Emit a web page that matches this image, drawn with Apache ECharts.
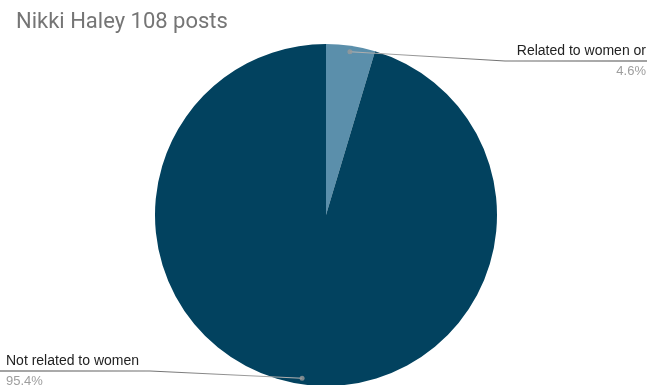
<!DOCTYPE html>
<html>
<head>
<meta charset="utf-8">
<script src="https://cdn.jsdelivr.net/npm/echarts@6/dist/echarts.min.js"></script>
<style>
  html, body { margin: 0; padding: 0; background: #fff; }
  #chart { width: 647px; height: 385px; }
</style>
</head>
<body>
<div id="chart"></div>
<script>
  // data
  const categories = ['Related to women or', 'Not related to women']
  const values = [5, 103]
  const colors = ['#5b8fab', '#02425f']

  const W = 647, H = 385
  const center = [326, 215]
  const radius = 171
  const total = values.reduce((a, b) => a + b, 0)

  // label anchors (where the horizontal part of each leader sits)
  const labelAnchors = [
      { bendX: 505, endX: W, y: 61, align: 'right', textX: 646 },
      { bendX: 150, endX: 0, y: 371, align: 'left', textX: 6 }
  ]

  // middle of each slice, in value units
  let acc = 0
  const mids = values.map(v => {
      const m = acc + v / 2
      acc += v
      return m
  })

  // leader start point: slightly inside the slice, at its middle angle
  function startPoint(mid) {
      const a = mid / total * Math.PI * 2
      const r = radius * 0.965
      return [center[0] + r * Math.sin(a), center[1] - r * Math.cos(a)]
  }

  const leaderSeries = mids.map((m, i) => {
      const s = startPoint(m)
      const an = labelAnchors[i]
      const toRight = an.endX > s[0]
      return {
          type: 'line',
          silent: true,
          z: 5,
          symbol: 'none',
          animation: false,
          lineStyle: {
              width: 1.2,
              color: {
                  type: 'linear', x: 0, y: 0, x2: 1, y2: 0,
                  colorStops: toRight
                      ? [{ offset: 0, color: '#b5b5b5' }, { offset: 0.45, color: '#777' }, { offset: 1, color: '#444' }]
                      : [{ offset: 0, color: '#444' }, { offset: 0.55, color: '#777' }, { offset: 1, color: '#b5b5b5' }]
              }
          },
          data: [s, [an.bendX, an.y], [an.endX, an.y]]
      }
  })

  const chart = echarts.init(document.getElementById('chart'))

  chart.setOption({
      title: {
          text: 'Nikki Haley 108 posts',
          left: 11,
          top: 6,
          textStyle: {
              fontFamily: 'Roboto, Arial, sans-serif',
              fontSize: 22,
              fontWeight: 'normal',
              color: '#757575'
          }
      },
      // pixel grid for the leader lines
      grid: { left: 0, right: 0, top: 0, bottom: 0 },
      xAxis: { type: 'value', min: 0, max: W, show: false },
      yAxis: { type: 'value', min: 0, max: H, inverse: true, show: false },
      polar: {
          center: center,
          radius: radius
      },
      angleAxis: {
          type: 'value',
          min: 0,
          max: total,
          startAngle: 90,
          clockwise: true,
          show: false
      },
      radiusAxis: {
          type: 'value',
          min: 0,
          max: 1,
          show: false
      },
      series: [{
          type: 'pie',
          center: center,
          radius: radius,
          startAngle: 90,
          silent: true,
          z: 2,
          data: categories.map((name, i) => ({
              name: name,
              value: values[i],
              itemStyle: { color: colors[i] }
          })),
          itemStyle: { borderWidth: 0 },
          label: {
              show: true,
              position: 'outside',
              formatter: p => '{name|' + p.name + '}\n{pct|' + p.percent.toFixed(1) + '%}',
              rich: {
                  name: {
                      fontFamily: 'Liberation Sans, Arial, sans-serif',
                      fontSize: 14,
                      color: '#222',
                      lineHeight: 19
                  },
                  pct: {
                      fontFamily: 'Liberation Sans, Arial, sans-serif',
                      fontSize: 13,
                      color: '#9e9e9e',
                      lineHeight: 21
                  }
              }
          },
          labelLine: { show: false },
          labelLayout: function (params) {
              const an = labelAnchors[params.dataIndex]
              return { x: an.textX, y: an.y + 1, align: an.align, verticalAlign: 'middle' }
          }
      }].concat(leaderSeries, [{
          type: 'scatter',
          coordinateSystem: 'polar',
          silent: true,
          z: 6,
          symbolSize: 5,
          itemStyle: { color: '#9a9a9a' },
          data: mids.map(m => [0.965, m])
      }])
  })
</script>
</body>
</html>
